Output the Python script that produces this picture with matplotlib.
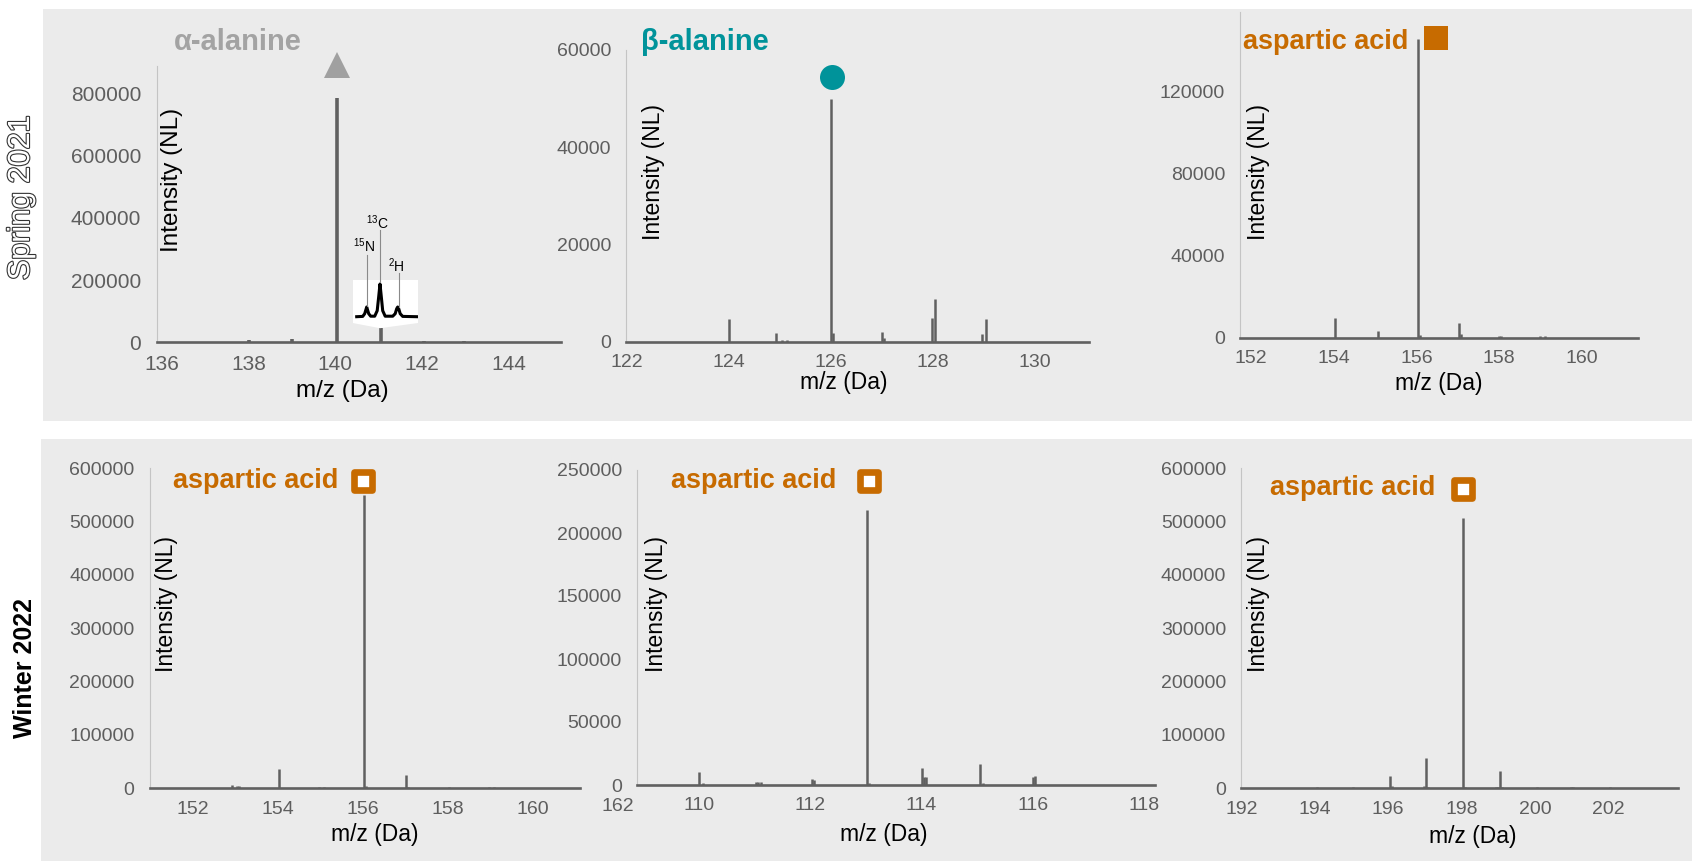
import matplotlib
matplotlib.use('Agg')
import matplotlib.pyplot as plt
from matplotlib import patheffects
from matplotlib.patches import Rectangle, Polygon
from matplotlib.markers import MarkerStyle

plt.rcParams['font.family'] = ['Liberation Sans', 'DejaVu Sans']
plt.rcParams['mathtext.default'] = 'regular'

##################################################
# spectra: m/z (Da) and intensity (NL)

# Spring 2021
ala_a_mz = [138.0, 139.0, 140.03, 141.05, 142.05, 142.98]
ala_a_int = [7000, 9500, 785000, 45000, 4000, 3000]

ala_b_mz = [124.02, 124.93, 125.05, 125.15, 126.02, 126.06, 127.02, 127.06, 128.0, 128.06, 128.98, 129.06]
ala_b_int = [4750, 1700, 400, 400, 50000, 1700, 1900, 700, 4950, 8800, 1500, 4600]

asp_s_mz = [154.04, 155.08, 156.03, 156.08, 157.03, 157.08, 158.0, 158.05, 158.98, 159.1]
asp_s_int = [9400, 3200, 145500, 1300, 7000, 1600, 900, 1000, 700, 800]

# Winter 2022
asp_w1_mz = [152.94, 153.04, 153.1, 154.04, 154.97, 155.09, 156.03, 156.08, 157.02, 157.07, 158.04, 158.97, 159.09]
asp_w1_int = [6000, 4500, 4500, 37000, 3000, 3000, 550000, 4000, 25000, 3000, 3000, 2500, 2500]

asp_w2_mz = [110.01, 110.08, 111.02, 111.07, 111.12, 112.03, 112.07, 113.02, 113.06, 114.01, 114.05, 114.08, 115.06, 115.1, 116.01, 116.05]
asp_w2_int = [10500, 1800, 2000, 2600, 2000, 4700, 4000, 218600, 1800, 13700, 6600, 6600, 16600, 1800, 6600, 7400]

asp_w3_mz = [194.05, 195.05, 196.04, 196.1, 196.97, 197.02, 197.08, 197.18, 198.04, 198.09, 198.93, 198.98, 199.04, 199.09, 200.05, 200.98, 201.03, 202.05, 203.0]
asp_w3_int = [3000, 2000, 23000, 4300, 4300, 56000, 3000, 1200, 506700, 3000, 2000, 3000, 33000, 3000, 3000, 3000, 2500, 2000, 1500]

# isotope inset trace of the 141 cluster (x: px across the inset, y: px above its baseline)
inset_x = [4, 10, 12, 13.5, 14, 14.5, 16, 18, 22, 24.5, 26, 27.3, 28.6, 30, 32.5, 40, 42.5, 44, 45, 46, 47.5, 50, 64]
inset_y = [0, 0.3, 3, 8, 9.7, 8, 3, 0.5, 0.5, 6, 20, 32.7, 20, 6, 0.5, 0.5, 3, 8, 9.7, 8, 3, 0.3, 0]
iso_labels = ['$^{15}$N', '$^{13}$C', '$^{2}$H']

names = ['\u03b1-alanine', '\u03b2-alanine', 'aspartic acid', 'aspartic acid', 'aspartic acid', 'aspartic acid']
spectra = [(ala_a_mz, ala_a_int), (ala_b_mz, ala_b_int), (asp_s_mz, asp_s_int),
           (asp_w1_mz, asp_w1_int), (asp_w2_mz, asp_w2_int), (asp_w3_mz, asp_w3_int)]
xticks = [[136, 138, 140, 142, 144], [122, 124, 126, 128, 130], [152, 154, 156, 158, 160],
          [152, 154, 156, 158, 160], [110, 112, 114, 116, 118], [192, 194, 196, 198, 200, 202]]
yticks = [[0, 200000, 400000, 600000, 800000], [0, 20000, 40000, 60000], [0, 40000, 80000, 120000],
          [0, 100000, 200000, 300000, 400000, 500000, 600000], [0, 50000, 100000, 150000, 200000, 250000],
          [0, 100000, 200000, 300000, 400000, 500000, 600000]]
# marker sitting over the main peak of each compound
marker_mz = [140.03, 126.03, 156.48, 156.02, 113.06, 198.05]
marker_int = [890000, 54500, 146000, 577000, 241000, 560500]

##################################################
# layout (pixels in a 1692x861 figure)
W, H = 1692, 861
boxes = [(156.5, 561, 66, 342.3), (626.4, 1089, 50, 341.7), (1240.3, 1638, 11.7, 337.7),
         (149.8, 580, 468.3, 788.3), (637.1, 1155, 470, 785), (1241.4, 1677.5, 468.3, 788.3)]
xlims = [(135.87, 145.21), (122, 131.07), (151.74, 161.36), (151.0, 161.11), (108.89, 118.2), (192.05, 203.88)]
ylims = [(0, 887000), (0, 59400), (0, 159000), (0, 600000), (0, 250000), (0, 600000)]
title_pos = [(174, 42), (640.7, 41.7), (1242.8, 41.7), (173, 480.7), (671, 480.7), (1269.5, 488.3)]
title_size = [21, 21, 19.5, 19.5, 19.5, 19.5]
tick_size = [15, 14, 14, 14, 14, 14]
lab_size = [17.5, 16.5, 16.5, 16.5, 16.5, 16.5]
ylab_pos = [(172, 180), (653, 172), (1258, 172), (166.5, 604), (656.8, 604), (1258, 604)]
xlab_pos = [(342, 391), (844, 382), (1439, 383), (374.8, 835), (883.6, 835), (1472.6, 836.7)]

grey_txt = '#a3a3a3'
teal = '#00939a'
orange = '#c76b00'
title_cols = [grey_txt, teal, orange, orange, orange, orange]
line_col = '#606060'
tick_col = '#5e5e5e'
band_col = '#ebebeb'


def ax_frac(box, x, y):
	L, R, T, B = box
	return (x - L) / (R - L), (B - y) / (B - T)


fig = plt.figure(figsize=(W / 100, H / 100), dpi=100)

# grey background bands for the two campaigns
fig.patches.append(Rectangle((42.5 / W, 1 - 421 / H), 1 - 42.5 / W, 412 / H, transform=fig.transFigure,
                             facecolor=band_col, edgecolor='none', zorder=-5))
fig.patches.append(Rectangle((40.7 / W, 0), 1 - 40.7 / W, 1 - 439 / H, transform=fig.transFigure,
                             facecolor=band_col, edgecolor='none', zorder=-5))

axes = []
for i in range(6):
	L, R, T, B = boxes[i]
	ax = fig.add_axes([L / W, 1 - B / H, (R - L) / W, (B - T) / H])
	ax.set_facecolor('none')
	mz, inten = spectra[i]
	lw = 2.6 if i == 0 else 1.8
	ax.vlines(mz, 0, inten, color=line_col, lw=lw)
	ax.set_xlim(xlims[i])
	ax.set_ylim(ylims[i])
	ax.set_xticks(xticks[i])
	ax.set_yticks(yticks[i])
	ax.tick_params(length=0, labelsize=tick_size[i], labelcolor=tick_col)
	ax.tick_params(axis='x', pad=9)
	ax.tick_params(axis='y', pad=11)
	for s in ['top', 'right']:
		ax.spines[s].set_visible(False)
	ax.spines['bottom'].set_color(line_col)
	ax.spines['bottom'].set_linewidth(1.9)
	ax.spines['left'].set_color('#c4c4c4')
	ax.spines['left'].set_linewidth(0.8)

	ax.set_ylabel('Intensity (NL)', fontsize=lab_size[i], color='black')
	ax.yaxis.label.set_va('center')
	ax.yaxis.set_label_coords(*ax_frac(boxes[i], *ylab_pos[i]))
	ax.set_xlabel('m/z (Da)', fontsize=lab_size[i], color='black')
	ax.xaxis.label.set_va('center')
	ax.xaxis.set_label_coords(*ax_frac(boxes[i], *xlab_pos[i]))

	tx, ty = title_pos[i]
	fig.text(tx / W, 1 - ty / H, names[i], color=title_cols[i], fontsize=title_size[i],
	         fontweight='bold', ha='left', va='center')
	axes.append(ax)

# compound markers
axes[0].plot(marker_mz[0], marker_int[0], marker='^', ms=19, color='#a0a0a0', mew=0, clip_on=False)
axes[1].plot(marker_mz[1], marker_int[1], marker='o', ms=18, color=teal, mew=0, clip_on=False)
axes[2].plot(marker_mz[2], marker_int[2], marker='s', ms=17, color=orange, mew=0, clip_on=False)
open_sq = MarkerStyle('s', joinstyle='round')
for i in [3, 4, 5]:
	axes[i].plot(marker_mz[i], marker_int[i], marker=open_sq, ms=13.4, mew=4.8,
	             markerfacecolor='white', markeredgecolor=orange, clip_on=False)

# stray '162' label past the end of the first winter axis
axes[3].text(162, ax_frac(boxes[3], 0, 806.7)[1], '162', transform=axes[3].get_xaxis_transform(),
             fontsize=14, color=tick_col, ha='center', va='center', clip_on=False)

# isotope inset for alpha-alanine
ibox = (352.7, 418, 280, 323)
ins = fig.add_axes([ibox[0] / W, 1 - ibox[3] / H, (ibox[1] - ibox[0]) / W, (ibox[3] - ibox[2]) / H])
ins.set_xlim(0, ibox[1] - ibox[0])
ins.set_ylim(-6.3, 36.7)
ins.set_facecolor('white')
for s in ins.spines.values():
	s.set_visible(False)
ins.set_xticks([])
ins.set_yticks([])
ins.add_patch(Polygon([[0, -6.3], [27.3, -11.5], [65.3, -6.3]], closed=True, facecolor='white',
                      edgecolor='none', clip_on=False))
ins.plot(inset_x, inset_y, color='black', lw=2.2, solid_joinstyle='round')
iso_x = [14, 27.3, 46.3]
iso_bot = [10.7, 34.7, 9.7]
iso_top = [61.7, 86.7, 43.7]
iso_lab_y = [70.7, 93.7, 50.7]
for k in range(3):
	ins.plot([iso_x[k], iso_x[k]], [iso_bot[k], iso_top[k]], color='#8a8a8a', lw=0.8, clip_on=False)
	ins.text(iso_x[k] - 3, iso_lab_y[k], iso_labels[k], fontsize=10, ha='center', va='center',
	         color='black', clip_on=False)

# campaign labels
fig.text(21 / W, 1 - 198 / H, 'Spring 2021', rotation=90, fontsize=22, color='white',
         ha='center', va='center',
         path_effects=[patheffects.withStroke(linewidth=1.6, foreground='#333333')])
fig.text(25 / W, 1 - 668 / H, 'Winter 2022', rotation=90, fontsize=18, fontweight='bold',
         color='black', ha='center', va='center')

plt.savefig('out.png', dpi=100)
